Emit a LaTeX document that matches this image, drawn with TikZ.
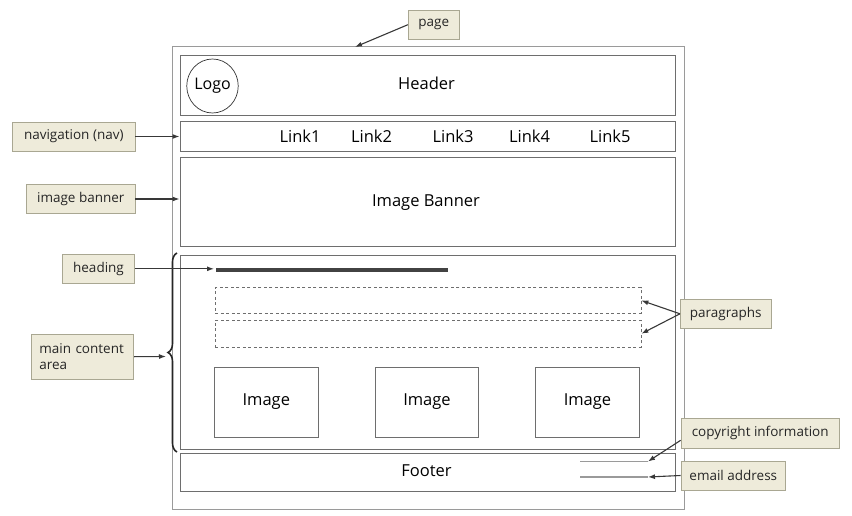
\documentclass[tikz,border=0pt]{standalone}
\usepackage{fontspec}
\setmainfont{Open Sans}
\usetikzlibrary{arrows.meta,shapes.geometric,decorations.pathreplacing}
\definecolor{lblfill}{HTML}{EEEBDA}
\definecolor{lbldraw}{HTML}{A9A792}
\definecolor{boxdraw}{HTML}{6E6E6E}
\definecolor{pagedraw}{HTML}{9A9A9A}
\definecolor{arr}{HTML}{383838}
\tikzset{
  wbox/.style={draw=boxdraw, line width=1pt, fill=white, inner sep=0pt, font=\fontsize{16.5}{18}\selectfont},
  pbox/.style={draw=boxdraw, line width=0.8pt, dash pattern=on 3pt off 2.5pt, inner sep=0pt},
  lbl/.style={draw=lbldraw, fill=lblfill, line width=0.8pt, inner sep=0pt, font=\fontsize{13.5}{16}\selectfont, text=black!85},
  con/.style={draw=arr, line width=1.1pt, -{Latex[length=7pt,width=5pt]}},
  txt/.style={inner sep=0pt, font=\fontsize{16.5}{18}\selectfont},
}
\begin{document}
\begin{tikzpicture}[x=1pt,y=-1pt]
\useasboundingbox (0,0) rectangle (852,516);
% page
\node[draw=pagedraw, line width=1pt, minimum width=512pt, minimum height=462pt, inner sep=0pt] (page) at (428,278) {};
% header
\node[wbox, minimum width=495pt, minimum height=60pt] (header) at (427.5,86) {};
\node[txt] (headert) at (426.5,83.5) {Header};
\node[draw=black!80, line width=0.7pt, ellipse, minimum width=51pt, minimum height=54pt, inner sep=0pt, font=\fontsize{16}{18}\selectfont] (logo) at (212.5,86) {Logo};
% nav
\node[wbox, minimum width=495pt, minimum height=30pt] (nav) at (427.5,137) {};
\node[txt] (l1) at (300,136) {Link1};
\node[txt] (l2) at (371.5,136) {Link2};
\node[txt] (l3) at (453,136) {Link3};
\node[txt] (l4) at (529.5,136) {Link4};
\node[txt] (l5) at (610,136) {Link5};
% banner
\node[wbox, minimum width=495pt, minimum height=88pt] (banner) at (427.5,202) {};
\node[txt] (bannert) at (426,203) {Image Banner};
% main
\node[wbox, minimum width=495pt, minimum height=194pt] (main) at (427.5,352) {};
\coordinate (hs) at (216,269.5);
\coordinate (he) at (448,269.5);
\draw[line width=4pt, draw=arr!95] (hs) -- (he);
\node[pbox, minimum width=425.5pt, minimum height=25.5pt] (p1) at (428.2,300.5) {};
\node[pbox, minimum width=425.5pt, minimum height=26.5pt] (p2) at (428.2,333.7) {};
\node[wbox, minimum width=104pt, minimum height=70pt] (img1) at (266.3,402) {Image};
\node[wbox, minimum width=103pt, minimum height=70pt] (img2) at (427,402) {Image};
\node[wbox, minimum width=103.5pt, minimum height=70pt] (img3) at (587.5,402) {Image};
% footer
\node[wbox, minimum width=495pt, minimum height=38pt] (footer) at (427.5,472) {};
\node[txt] (footert) at (426.5,471) {Footer};
\coordinate (c1) at (580,461.5);
\coordinate (c2) at (648,461.5);
\coordinate (e1) at (580,477);
\coordinate (e2) at (648,477);
\draw[draw=pagedraw, line width=1.5pt] (c1) -- (c2);
\draw[draw=pagedraw, line width=1.5pt] (e1) -- (e2);
% brace
\coordinate (bb) at (177,452);
\coordinate (bt) at (177,253);
\draw[line width=1.6pt, draw=black!85, decorate, decoration={brace, amplitude=9pt}] (bb) -- (bt);
\coordinate (btip) at (166,356.5);
% labels
\node[lbl, minimum width=51pt, minimum height=29pt] (pagel) at (433.8,24.7) {page};
\node[lbl, minimum width=122.3pt, minimum height=29pt] (navl) at (73.8,136.5) {navigation (nav)};
\node[lbl, minimum width=108.3pt, minimum height=29.4pt] (bannerl) at (80.8,199) {image banner};
\node[lbl, minimum width=71.6pt, minimum height=29.7pt] (headl) at (98.5,268.8) {heading};
\node[lbl, minimum width=102.7pt, minimum height=44.7pt, align=left, text width=86pt, font=\fontsize{13.5}{16}\selectfont] (mainl) at (82.3,356.7) {main content\\area};
\node[lbl, minimum width=90.7pt, minimum height=29pt] (parl) at (725.7,313.8) {paragraphs};
\node[lbl, minimum width=158.3pt, minimum height=29.3pt] (copyl) at (760.2,433.3) {copyright information};
\node[lbl, minimum width=104.7pt, minimum height=29pt] (maill) at (733.3,475.5) {email address};
% connectors
\coordinate (pt) at (355,47);
\draw[con] (pagel.west) -- (pt);
\draw[con] (navl.east) -- (navl.east -| nav.west);
\draw[con] (bannerl.east) -- (bannerl.east -| banner.west);
\draw[con, shorten >=2pt] (headl.east) -- (headl.east -| hs);
\draw[con] (mainl.east) -- (btip);
\draw[con] (parl.west) -- (p1.east);
\draw[con] (parl.west) -- (p2.east);
\draw[con] ([yshift=-7pt]copyl.west) -- (c2);
\draw[con] (maill.west) -- (e2);
\end{tikzpicture}
\end{document}
